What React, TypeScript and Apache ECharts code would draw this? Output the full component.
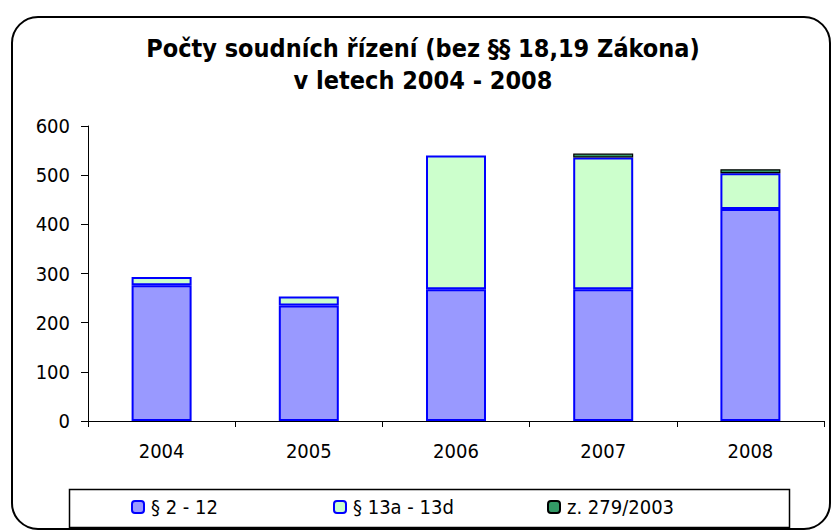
import React, { useEffect, useRef } from "react";
import * as echarts from "echarts";

const categories = ["2004", "2005", "2006", "2007", "2008"];
const seriesNames = ["§ 2 - 12", "§ 13a - 13d", "z. 279/2003"];
const s212 = [276, 235, 268, 268, 431];
const s13 = [17, 18, 272, 268, 73];
const z279 = [0, 0, 0, 8, 8];
const titleLines = ["Počty soudních řízení (bez §§ 18,19 Zákona)", "v letech 2004 - 2008"];

const FONT = '"DejaVu Sans Condensed", "DejaVu Sans", sans-serif';

export default function App() {
  const ref = useRef<HTMLDivElement>(null);
  useEffect(() => {
    if (!ref.current) return;
    const chart = echarts.init(ref.current, null, { renderer: "svg" });
    const legendLefts = [131, 333, 547];
    chart.setOption({
      animation: false,
      backgroundColor: "#ffffff",
      textStyle: { fontFamily: FONT },
      title: {
        text: titleLines.join("\n"),
        left: 418,
        textAlign: "center",
        top: 27,
        textStyle: { fontFamily: FONT, fontWeight: "bold", fontSize: 25, lineHeight: 32, color: "#000" },
      },
      grid: { left: 88, right: 8, top: 126, bottom: 110, containLabel: false },
      xAxis: {
        type: "category",
        data: categories,
        axisLine: { lineStyle: { color: "#000", width: 1 } },
        axisTick: { show: true, length: 6, lineStyle: { color: "#000" }, alignWithLabel: false },
        axisLabel: { color: "#000", fontSize: 20, fontFamily: FONT, margin: 20 },
      },
      yAxis: {
        type: "value",
        min: 0,
        max: 600,
        interval: 100,
        axisLine: { show: true, lineStyle: { color: "#000", width: 1 } },
        axisTick: { show: true, length: 7, lineStyle: { color: "#000" } },
        splitLine: { show: false },
        axisLabel: { color: "#000", fontSize: 20, fontFamily: FONT, margin: 18 },
      },
      legend: seriesNames.map((n, i) => ({
        data: [n],
        left: legendLefts[i],
        top: 497,
        padding: 0,
        itemWidth: 12,
        itemHeight: 12,
        itemGap: 0,
        textStyle: { fontSize: 20, fontFamily: FONT, color: "#000", padding: [0, 0, 0, 2] },
      })),
      graphic: [
        {
          type: "rect",
          shape: { x: 12, y: 17, width: 818, height: 512, r: 26 },
          style: { fill: "none", stroke: "#000", lineWidth: 2 },
          silent: true,
          z: 100,
        },
        {
          type: "rect",
          shape: { x: 69.5, y: 489.5, width: 720, height: 38 },
          style: { fill: "none", stroke: "#000", lineWidth: 1.5 },
          silent: true,
          z: 100,
        },
      ],
      series: [
        {
          name: seriesNames[0],
          type: "bar",
          stack: "a",
          data: s212,
          barWidth: 60,
          itemStyle: { color: "#9999FF", borderColor: "#0000FF", borderWidth: 2 },
        },
        {
          name: seriesNames[1],
          type: "bar",
          stack: "a",
          data: s13,
          barWidth: 60,
          itemStyle: { color: "#CCFFCC", borderColor: "#0000FF", borderWidth: 2 },
        },
        {
          name: seriesNames[2],
          type: "bar",
          stack: "a",
          data: z279.map((v) => (v === 0 ? null : v)),
          barWidth: 60,
          itemStyle: { color: "#339966", borderColor: "#000000", borderWidth: 1.2 },
        },
      ],
    });
    return () => chart.dispose();
  }, []);
  return (
    <div
      ref={ref}
      style={{ position: "fixed", left: 0, top: 0, width: 832, height: 531 }}
    />
  );
}
